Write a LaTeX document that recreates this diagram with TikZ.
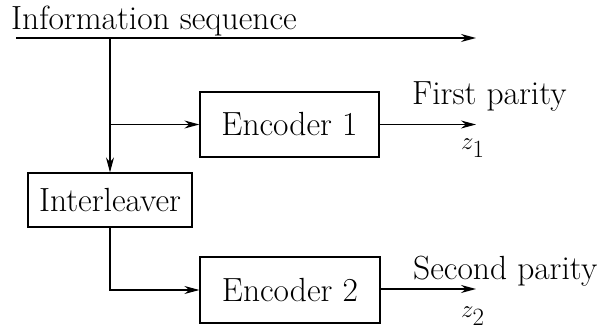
\documentclass[tikz,border=0pt]{standalone}
\usetikzlibrary{arrows.meta}
\begin{document}
\begin{tikzpicture}[x=1pt,y=-1pt,
  every node/.style={font=\fontsize{33.5}{38}\selectfont, inner sep=0pt},
  blk/.style={draw, line width=1.2pt},
  wire/.style={line width=1.2pt},
  arr/.style={wire, -{Stealth[length=15pt,width=8pt]}}]
\useasboundingbox (0,0) rectangle (603,331);
% blocks
\node[blk, minimum width=179pt, minimum height=65pt] (enc1) at (289.5,124.5) {Encoder 1};
\node[blk, minimum width=164pt, minimum height=54pt] (intl) at (110,200) {Interleaver};
\node[blk, minimum width=180pt, minimum height=66pt] (enc2) at (290,290) {Encoder 2};
% labels
\node[anchor=base west] (info) at (11,30) {Information sequence};
\node[anchor=base west] (fp) at (412,105) {First parity};
\node[anchor=base west] (sp) at (413,280) {Second parity};
\node[anchor=base west] (z1) at (461,150) {$z_1$};
\node[anchor=base west] (z2) at (461,318) {$z_2$};
% free ends and junctions
\coordinate (in) at (16,38);
\coordinate (sysout) at (476,38);
\coordinate (split) at (110,38);
\coordinate (out1) at (476,124.5);
\coordinate (out2) at (476,289);
% connections
\draw[arr] (in) -- (sysout);
\draw[arr] (split) -- (intl.north);
\draw[arr] (split |- enc1.west) -- (enc1.west);
\draw[arr] (intl.south) |- (enc2.west);
\draw[arr] (enc1.east) -- (out1);
\draw[arr] (enc2.east |- out2) -- (out2);
\end{tikzpicture}
\end{document}
